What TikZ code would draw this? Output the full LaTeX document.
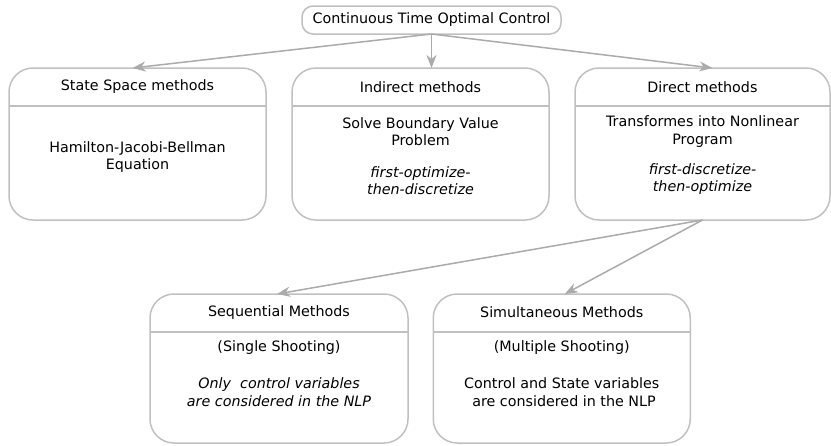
\documentclass[tikz,border=0pt]{standalone}
\usepackage{fontspec}
\setmainfont{DejaVu Sans}
\usetikzlibrary{arrows.meta}
\usepackage{xcolor}
\definecolor{bgray}{HTML}{C0C0C0}
\definecolor{agray}{HTML}{ABABAB}
\tikzstyle{box}=[draw=bgray, line width=1.5, rounded corners=24pt, minimum width=257pt, minimum height=152pt, inner sep=0pt, outer sep=0pt]
\tikzstyle{tbox}=[box, rounded corners=11pt, minimum width=259pt, minimum height=28pt]
\tikzstyle{lbox}=[box, minimum height=149pt]
\tikzstyle{txt}=[align=center, inner sep=0pt, font=\fontsize{14.3}{17.5}\selectfont]
\tikzstyle{itxt}=[txt, font=\fontsize{14.3}{17.5}\selectfont\itshape]
\tikzstyle{l1}=[draw=bgray, line width=1.5]
\tikzstyle{arr}=[draw=agray, line width=1.5, -{Stealth[length=13pt, width=10pt, inset=4pt]}]

\begin{document}
\begin{tikzpicture}[x=1pt, y=-1pt]
    \useasboundingbox (0,0) rectangle (831,445);
    \node[tbox, txt] at (431.5,20) (ctoc) {Continuous Time Optimal Control};

    \node[box] at (137.5,144) (ssm) {};
    \node[box] at (420.5,144) (ind) {};
    \node[box, minimum width=255pt] at (702.5,144) (dir) {};
    \draw[l1] ([yshift=-38pt]ssm.north west) -- ([yshift=-38pt]ssm.north east);
    \draw[l1] ([yshift=-38pt]ind.north west) -- ([yshift=-38pt]ind.north east);
    \draw[l1] ([yshift=-38pt]dir.north west) -- ([yshift=-38pt]dir.north east);

    \node[txt] at ([yshift=-19pt]ssm.north) (ssmh) {State Space methods};
    \node[txt] at ([yshift=-89pt]ssm.north) (ssmb) {Hamilton-Jacobi-Bellman\\Equation};

    \node[txt] at ([yshift=-19pt]ind.north) (indh) {Indirect methods};
    \node[txt] at ([yshift=-63.5pt]ind.north) (indb) {Solve Boundary Value\\Problem};
    \node[itxt] at ([yshift=-112.5pt]ind.north) (indi) {first-optimize-\\then-discretize};

    \node[txt] at ([yshift=-19pt]dir.north) (dirh) {Direct methods};
    \node[txt] at ([yshift=-63.5pt]dir.north) (dirb) {Transformes into Nonlinear\\Program};
    \node[itxt] at ([yshift=-111pt]dir.north) (diri) {first-discretize-\\then-optimize};

    \node[lbox, minimum width=258pt] at (279,368.5) (seq) {};
    \node[lbox] at (561.75,368.5) (sim) {};
    \draw[l1] ([yshift=-38pt]seq.north west) -- ([yshift=-38pt]seq.north east);
    \draw[l1] ([yshift=-38pt]sim.north west) -- ([yshift=-38pt]sim.north east);

    \node[txt] at ([yshift=-18.5pt]seq.north) (seqh) {Sequential Methods};
    \node[txt] at ([yshift=-54pt]seq.north) (seqb) {(Single Shooting)};
    \node[itxt] at ([yshift=-98pt]seq.north) (seqi) {Only~ control variables\\are considered in the NLP};

    \node[txt] at ([yshift=-18.5pt]sim.north) (simh) {Simultaneous Methods};
    \node[txt] at ([yshift=-54pt]sim.north) (simb) {(Multiple Shooting)};
    \node[txt] at ([yshift=-98pt]sim.north) (simi) {Control and State variables\\~are considered in the NLP};

    \draw[arr] (ctoc.south) -- ([xshift=-5pt]ssm.north);
    \draw[arr] (ctoc.south) -- (ctoc.south |- ind.north);
    \draw[arr] (ctoc.south) -- ([xshift=10pt]dir.north);
    \draw[arr] (dir.south) -- ([xshift=-2pt]seq.north);
    \draw[arr] (dir.south) -- ([xshift=3pt]sim.north);
\end{tikzpicture}
\end{document}
